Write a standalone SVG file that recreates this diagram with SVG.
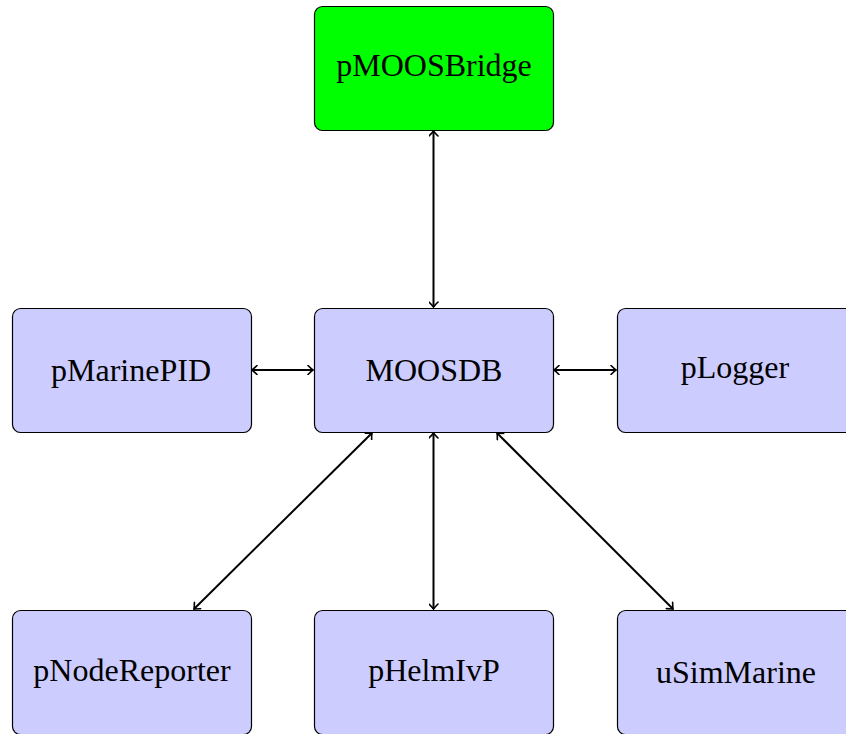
<svg xmlns="http://www.w3.org/2000/svg" width="846" height="734" viewBox="0 0 846 734">
<style>
.box{fill:#ccccff;stroke:#000;stroke-width:1.2}
.green{fill:#00ff00}
.lbl{font-family:"Liberation Serif","DejaVu Serif",serif;font-size:32px;fill:#000;text-anchor:middle}
.conn{stroke:#000;stroke-width:2;fill:none;marker-start:url(#ah);marker-end:url(#ah)}
</style>
<defs>
<marker id="ah" viewBox="-6 -5 8 10" refX="0" refY="0" markerWidth="8" markerHeight="10" markerUnits="userSpaceOnUse" orient="auto-start-reverse">
<path d="M-5,-4.5 Q-1.5,-1 0,0 Q-1.5,1 -5,4.5" fill="none" stroke="#000" stroke-width="1.6" stroke-linecap="round"/>
</marker>
</defs>
<g id="connectors">
<line class="conn" x1="433.5" y1="131" x2="433.5" y2="307"/>
<line class="conn" x1="252" y1="370" x2="313" y2="370"/>
<line class="conn" x1="554" y1="370" x2="616" y2="370"/>
<line class="conn" x1="433.5" y1="433" x2="433.5" y2="609"/>
<line class="conn" x1="372" y1="433" x2="194" y2="609"/>
<line class="conn" x1="497" y1="433" x2="673" y2="609"/>
</g>
<g id="pMOOSBridge"><rect class="box green" x="314.5" y="6.5" width="239" height="124" rx="8"/><text class="lbl" x="434" y="76">pMOOSBridge</text></g>
<g id="MOOSDB"><rect class="box" x="314.5" y="308.5" width="239" height="124" rx="8"/><text class="lbl" x="434" y="381">MOOSDB</text></g>
<g id="pMarinePID"><rect class="box" x="12.5" y="308.5" width="239" height="124" rx="8"/><text class="lbl" x="131" y="381">pMarinePID</text></g>
<g id="pLogger"><rect class="box" x="617.5" y="308.5" width="239" height="124" rx="8"/><text class="lbl" x="735" y="378">pLogger</text></g>
<g id="pNodeReporter"><rect class="box" x="12.5" y="610.5" width="239" height="124" rx="8"/><text class="lbl" x="132" y="681">pNodeReporter</text></g>
<g id="pHelmIvP"><rect class="box" x="314.5" y="610.5" width="239" height="124" rx="8"/><text class="lbl" x="434" y="681">pHelmIvP</text></g>
<g id="uSimMarine"><rect class="box" x="617.5" y="610.5" width="239" height="124" rx="8"/><text class="lbl" x="736" y="683">uSimMarine</text></g>
</svg>
